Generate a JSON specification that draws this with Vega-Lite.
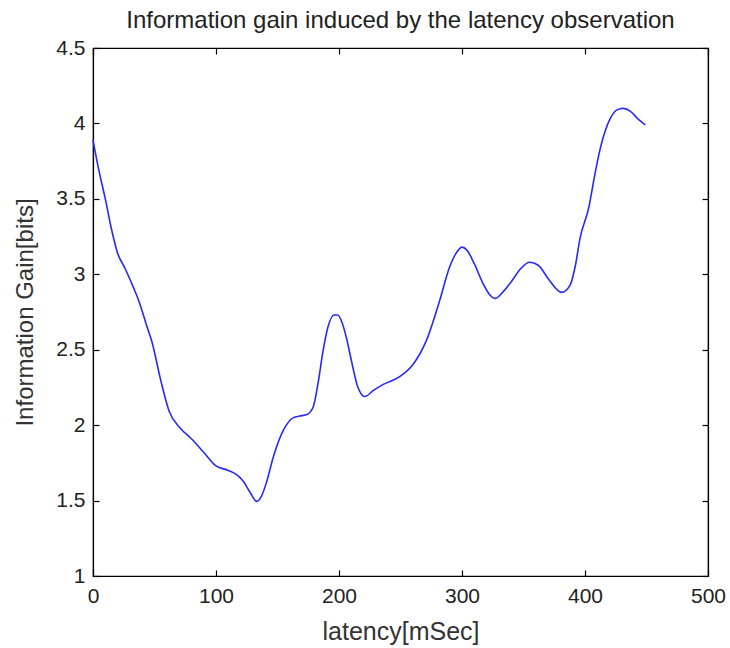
{
  "$schema": "https://vega.github.io/schema/vega-lite/v6.json",
  "autosize": "none",
  "padding": {"left": 93, "top": 48, "right": 22, "bottom": 72},
  "width": 615,
  "height": 528,
  "background": "white",
  "title": {
    "text": "Information gain induced by the latency observation",
    "font": "Liberation Sans",
    "fontSize": 24,
    "fontWeight": "normal",
    "color": "#222222",
    "offset": 4
  },
  "config": {
    "view": {"stroke": "#000000", "strokeWidth": 1.2},
    "axis": {
      "grid": false,
      "labelFont": "Liberation Sans",
      "labelFontSize": 21,
      "labelColor": "#222222",
      "titleFont": "Liberation Sans",
      "titleFontSize": 24,
      "titleFontWeight": "normal",
      "titleColor": "#333333",
      "domainColor": "#000000",
      "tickColor": "#000000",
      "tickSize": -6,
      "tickWidth": 1.2,
      "domainWidth": 1.2
    }
  },
  "data": {
    "values": [
      {"latency": 0, "gain": 3.89},
      {"latency": 5, "gain": 3.68},
      {"latency": 10, "gain": 3.5},
      {"latency": 15, "gain": 3.3},
      {"latency": 20, "gain": 3.14},
      {"latency": 26, "gain": 3.04},
      {"latency": 33, "gain": 2.91},
      {"latency": 37, "gain": 2.83},
      {"latency": 44, "gain": 2.65},
      {"latency": 48, "gain": 2.55},
      {"latency": 55, "gain": 2.3},
      {"latency": 62, "gain": 2.09},
      {"latency": 71, "gain": 1.98},
      {"latency": 80, "gain": 1.91},
      {"latency": 90, "gain": 1.82},
      {"latency": 100, "gain": 1.73},
      {"latency": 110, "gain": 1.7},
      {"latency": 117, "gain": 1.67},
      {"latency": 122, "gain": 1.63},
      {"latency": 128, "gain": 1.55},
      {"latency": 133, "gain": 1.495},
      {"latency": 137, "gain": 1.53},
      {"latency": 141, "gain": 1.62},
      {"latency": 147, "gain": 1.8},
      {"latency": 155, "gain": 1.97},
      {"latency": 163, "gain": 2.05},
      {"latency": 168, "gain": 2.06},
      {"latency": 174, "gain": 2.07},
      {"latency": 179, "gain": 2.12},
      {"latency": 183, "gain": 2.28},
      {"latency": 187, "gain": 2.49},
      {"latency": 191, "gain": 2.65},
      {"latency": 196, "gain": 2.73},
      {"latency": 199, "gain": 2.73},
      {"latency": 202, "gain": 2.69},
      {"latency": 206, "gain": 2.58},
      {"latency": 210, "gain": 2.43},
      {"latency": 215, "gain": 2.26},
      {"latency": 221, "gain": 2.19},
      {"latency": 228, "gain": 2.23},
      {"latency": 236, "gain": 2.27},
      {"latency": 249, "gain": 2.32},
      {"latency": 260, "gain": 2.4},
      {"latency": 271, "gain": 2.56},
      {"latency": 282, "gain": 2.83},
      {"latency": 290, "gain": 3.05},
      {"latency": 296, "gain": 3.15},
      {"latency": 300, "gain": 3.18},
      {"latency": 304, "gain": 3.16},
      {"latency": 310, "gain": 3.07},
      {"latency": 317, "gain": 2.94},
      {"latency": 322, "gain": 2.87},
      {"latency": 327, "gain": 2.84},
      {"latency": 333, "gain": 2.88},
      {"latency": 340, "gain": 2.95},
      {"latency": 348, "gain": 3.04},
      {"latency": 355, "gain": 3.08},
      {"latency": 362, "gain": 3.06},
      {"latency": 371, "gain": 2.96},
      {"latency": 381, "gain": 2.88},
      {"latency": 388, "gain": 2.93},
      {"latency": 392, "gain": 3.05},
      {"latency": 396, "gain": 3.24},
      {"latency": 403, "gain": 3.44},
      {"latency": 408, "gain": 3.66},
      {"latency": 412, "gain": 3.82},
      {"latency": 416, "gain": 3.94},
      {"latency": 421, "gain": 4.04},
      {"latency": 426, "gain": 4.09},
      {"latency": 431, "gain": 4.1},
      {"latency": 437, "gain": 4.08},
      {"latency": 443, "gain": 4.03},
      {"latency": 449, "gain": 3.99}
    ]
  },
  "layer": [
    {
      "mark": {"type": "line", "color": "#2828ff", "strokeWidth": 1.6, "interpolate": "monotone"},
      "encoding": {
        "x": {
          "field": "latency", "type": "quantitative",
          "scale": {"domain": [0, 500], "nice": false, "zero": false},
          "axis": {"orient": "bottom", "values": [0, 100, 200, 300, 400, 500], "title": "latency[mSec]", "titleFontSize": 25, "labelPadding": 15, "titlePadding": 13, "labelFlush": false}
        },
        "y": {
          "field": "gain", "type": "quantitative",
          "scale": {"domain": [1, 4.5], "nice": false, "zero": false},
          "axis": {"orient": "left", "values": [1, 1.5, 2, 2.5, 3, 3.5, 4, 4.5], "title": "Information Gain[bits]", "labelPadding": 14, "titlePadding": 18, "labelFlush": false, "format": "~g"}
        }
      }
    },
    {
      "mark": {"type": "line", "strokeOpacity": 0},
      "encoding": {
        "x": {
          "field": "latency", "type": "quantitative",
          "axis": {"orient": "top", "values": [0, 100, 200, 300, 400, 500], "labels": false, "title": null}
        },
        "y": {
          "field": "gain", "type": "quantitative",
          "axis": {"orient": "right", "values": [1, 1.5, 2, 2.5, 3, 3.5, 4, 4.5], "labels": false, "title": null}
        }
      }
    }
  ],
  "resolve": {"axis": {"x": "independent", "y": "independent"}}
}
